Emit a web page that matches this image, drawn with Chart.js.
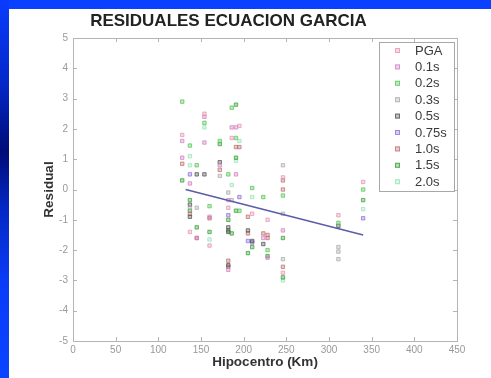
<!DOCTYPE html>
<html>
<head>
<meta charset="utf-8">
<script src="https://cdn.jsdelivr.net/npm/chart.js@4/dist/chart.umd.min.js"></script>
<style>
  html, body { margin: 0; padding: 0; overflow: hidden; background: #0840ff; }
  #wrap { width: 491px; height: 378px; }
</style>
</head>
<body>
<div id="wrap"><canvas id="c" width="491" height="378"></canvas></div>
<script>
// Residuals of the García attenuation equation against hypocentral distance
const periods = ['PGA', '0.1s', '0.2s', '0.3s', '0.5s', '0.75s', '1.0s', '1.5s', '2.0s'];
const periodColors = ['#e890b0', '#d27cc0', '#4cc44c', '#a8a8a8', '#4a4a4a', '#8a6ad8', '#bc6a6a', '#2c9c2c', '#94e4b4'];

const distPGA = [128, 137, 154, 160, 182, 186, 195, 210, 228, 246, 246, 311, 340];
const resPGA  = [1.8, -1.4, 2.5, -1.85, -0.6, 1.7, 2.1, -0.8, -1.0, 0.4, -2.75, -0.85, 0.25];

const dist01 = [128, 128, 137, 145, 154, 154, 160, 172, 182, 182, 186, 191, 191, 223, 228, 246];
const res01  = [1.6, 1.05, 0.2, -1.6, 2.4, 1.55, -0.9, 0.8, -0.35, -2.65, 2.05, 2.05, 0.5, -1.6, -2.25, -1.35];

const dist02 = [128, 137, 145, 154, 160, 172, 182, 186, 191, 195, 210, 223, 228, 246, 311, 340];
const res02  = [2.9, 1.45, 0.8, 2.2, -0.55, 1.6, 0.5, 2.7, 1.7, -0.7, 0.05, -0.25, -2.0, -0.2, -1.1, 0.0];

const dist03 = [137, 145, 172, 182, 186, 246, 246, 246, 311, 311, 311];
const res03  = [-0.6, -0.6, 0.45, -0.1, -0.35, 0.8, -0.8, -2.3, -1.9, -2.05, -2.3];

const dist05 = [137, 137, 145, 154, 172, 182, 182, 182, 205, 210, 223, 311];
const res05  = [-0.5, -0.9, 0.5, 0.5, 0.9, -1.25, -1.4, -2.5, -1.35, -1.7, -1.8, -1.2];

const dist075 = [137, 182, 195, 205, 210, 340];
const res075  = [0.5, -0.85, -0.25, -1.7, -1.75, -0.95];

const dist10 = [128, 137, 145, 160, 172, 182, 182, 191, 195, 205, 205, 223, 228, 228, 246, 246, 246];
const res10  = [0.85, -0.8, -1.6, -0.95, 0.65, -2.35, -2.55, 1.4, 1.4, -0.9, -1.45, -1.45, -1.5, -1.6, 0.3, 0.0, -2.55];

const dist15 = [128, 137, 137, 145, 160, 172, 182, 182, 186, 191, 191, 191, 205, 210, 228, 246, 246, 340];
const res15  = [0.3, -0.35, -0.7, -1.25, -1.4, 1.5, -1.0, -1.35, -1.45, 2.8, 1.05, -0.7, -2.1, -1.9, -2.2, -1.6, -2.9, -0.35];

const dist20 = [137, 137, 154, 160, 186, 191, 195, 210, 246, 340];
const res20  = [1.1, 0.8, 2.05, -1.65, 0.15, 0.95, 1.6, -0.25, -3.0, -0.65];

// Least-squares trend of all residuals
const fitDist = [132, 340];
const fitRes  = [0, -1.5];

const xTicks = [0, 50, 100, 150, 200, 250, 300, 350, 400, 450];
const yTicks = [-5, -4, -3, -2, -1, 0, 1, 2, 3, 4, 5];

const seriesDist = [distPGA, dist01, dist02, dist03, dist05, dist075, dist10, dist15, dist20];
const seriesRes  = [resPGA, res01, res02, res03, res05, res075, res10, res15, res20];

const pairs = (xs, ys) => xs.map((x, i) => ({ x: x, y: ys[i] }));

// Pale marker fill from a hex colour
function pale(hex, a) {
  const n = parseInt(hex.slice(1), 16);
  return 'rgba(' + (n >> 16) + ',' + ((n >> 8) & 255) + ',' + (n & 255) + ',' + a + ')';
}

const datasets = periods.map((p, i) => ({
  type: 'scatter',
  label: p,
  data: pairs(seriesDist[i], seriesRes[i]),
  backgroundColor: pale(periodColors[i], 0.35),
  borderColor: pale(periodColors[i], 0.7),
  pointStyle: 'rect',
  pointRadius: 2.4,
  borderWidth: 1,
  order: 2
}));

datasets.push({
  type: 'line',
  label: 'tendencia',
  data: pairs(fitDist, fitRes),
  borderColor: '#5c5ca8',
  borderWidth: 1.5,
  pointRadius: 0,
  fill: false,
  order: 1
});

// Slide background: blue frame with a darker band on the left edge
const slideBackground = {
  id: 'slideBackground',
  beforeDraw(chart) {
    const ctx = chart.ctx;
    const W = chart.width, H = chart.height;
    ctx.save();
    ctx.fillStyle = '#0a40ff';
    ctx.fillRect(0, 0, W, H);
    const g = ctx.createLinearGradient(0, 0, 0, H);
    g.addColorStop(0, '#0a3cff');
    g.addColorStop(0.22, '#0428c8');
    g.addColorStop(0.4, '#000c78');
    g.addColorStop(0.55, '#0428c4');
    g.addColorStop(0.75, '#0a3cf8');
    g.addColorStop(1, '#0a44ff');
    ctx.fillStyle = g;
    ctx.fillRect(0, 0, 9, H);
    ctx.fillStyle = '#ffffff';
    ctx.fillRect(9, 9, W - 9, H - 9);
    ctx.restore();
  }
};

// Axes box with inward tick marks on all four sides
const axesBox = {
  id: 'axesBox',
  afterDatasetsDraw(chart) {
    const ctx = chart.ctx;
    const a = chart.chartArea;
    const xs = chart.scales.x, ys = chart.scales.y;
    ctx.save();
    ctx.strokeStyle = '#b4b4b4';
    ctx.lineWidth = 1;
    ctx.strokeRect(Math.round(a.left) + 0.5, Math.round(a.top) + 0.5,
                   Math.round(a.right - a.left), Math.round(a.bottom - a.top));
    ctx.beginPath();
    const len = 4;
    xs.ticks.forEach(t => {
      const px = Math.round(xs.getPixelForValue(t.value)) + 0.5;
      ctx.moveTo(px, a.bottom); ctx.lineTo(px, a.bottom - len);
      ctx.moveTo(px, a.top); ctx.lineTo(px, a.top + len);
    });
    ys.ticks.forEach(t => {
      const py = Math.round(ys.getPixelForValue(t.value)) + 0.5;
      ctx.moveTo(a.left, py); ctx.lineTo(a.left + len, py);
      ctx.moveTo(a.right, py); ctx.lineTo(a.right - len, py);
    });
    ctx.stroke();
    ctx.restore();
  }
};

// Legend drawn inside the upper-right corner of the axes
const innerLegend = {
  id: 'innerLegend',
  afterDraw(chart) {
    const ctx = chart.ctx;
    const entries = chart.data.datasets.filter(d => periods.includes(d.label));
    const bx = 379, by = 42, bw = 75, bh = 149;
    ctx.save();
    ctx.fillStyle = '#ffffff';
    ctx.fillRect(bx, by, bw, bh);
    ctx.strokeStyle = '#a8a8a8';
    ctx.lineWidth = 1;
    ctx.strokeRect(bx + 0.5, by + 0.5, bw, bh);
    ctx.font = '13px "Liberation Sans", Arial, sans-serif';
    ctx.textBaseline = 'middle';
    ctx.textAlign = 'left';
    entries.forEach((d, i) => {
      const y = by + 8.5 + i * 16.4;
      ctx.fillStyle = d.backgroundColor;
      ctx.fillRect(395, y - 2.5, 5, 5);
      ctx.strokeStyle = d.borderColor;
      ctx.strokeRect(395.5, y - 2, 4, 4);
      ctx.fillStyle = '#3a3a3a';
      ctx.fillText(d.label, 415, y + 0.5);
    });
    ctx.restore();
  }
};

new Chart(document.getElementById('c'), {
  data: { datasets: datasets },
  options: {
    responsive: false,
    animation: false,
    layout: { padding: { left: 0, right: 34, top: 0, bottom: 0 } },
    plugins: {
      legend: { display: false },
      tooltip: { enabled: false },
      title: {
        display: true,
        text: 'RESIDUALES ECUACION GARCIA',
        color: '#222222',
        font: { family: '"Liberation Sans", Arial, sans-serif', size: 17, weight: 'bold', lineHeight: 1.2 },
        padding: { top: 11.5, bottom: 6.1 }
      }
    },
    scales: {
      x: {
        type: 'linear',
        min: 0, max: 450,
        afterBuildTicks(scale) { scale.ticks = xTicks.map(v => ({ value: v })); },
        afterFit(scale) { scale.height = 37; },
        grid: { display: false, drawTicks: false },
        border: { display: false },
        ticks: {
          color: '#999999',
          padding: 3,
          font: { family: '"Liberation Sans", Arial, sans-serif', size: 10 },
          maxRotation: 0,
          autoSkip: false
        },
        title: {
          display: true,
          text: 'Hipocentro (Km)',
          color: '#333333',
          font: { family: '"Liberation Sans", Arial, sans-serif', size: 13.5, weight: 'bold', lineHeight: 1.2 },
          padding: { top: 0, bottom: 8 }
        }
      },
      y: {
        type: 'linear',
        min: -5, max: 5,
        afterBuildTicks(scale) { scale.ticks = yTicks.map(v => ({ value: v })); },
        afterFit(scale) { scale.width = 73; },
        grid: { display: false, drawTicks: false },
        border: { display: false },
        ticks: {
          color: '#999999',
          padding: 5,
          font: { family: '"Liberation Sans", Arial, sans-serif', size: 10 },
          autoSkip: false
        },
        title: {
          display: true,
          text: 'Residual',
          color: '#333333',
          font: { family: '"Liberation Sans", Arial, sans-serif', size: 13.5, weight: 'bold', lineHeight: 1.2 },
          padding: { top: 41, bottom: 0 }
        }
      }
    }
  },
  plugins: [slideBackground, axesBox, innerLegend]
});
</script>
</body>
</html>
